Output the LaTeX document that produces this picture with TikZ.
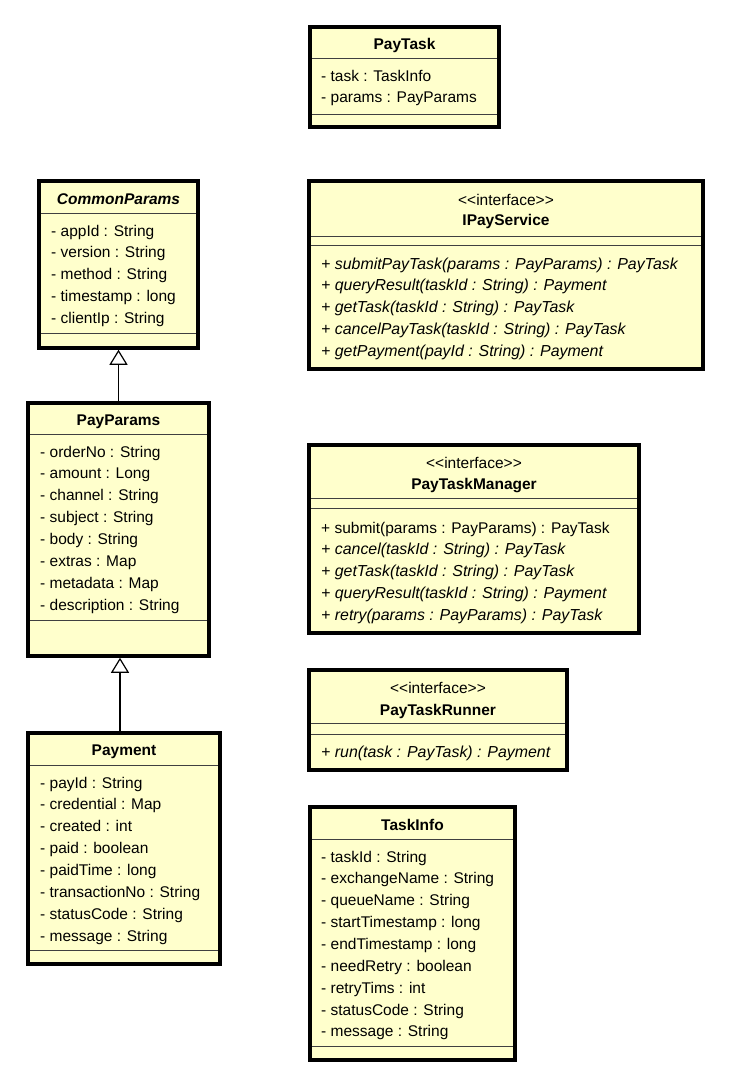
\documentclass[tikz,border=0pt]{standalone}
\usepackage{fontspec}
\setmainfont{Liberation Sans}
\usetikzlibrary{arrows.meta}
\definecolor{umlyellow}{HTML}{FFFFCC}
\definecolor{seplinec}{HTML}{404040}
\newcommand{\umllist}[4]{%
  \foreach \t [count=\i] in {#4} {
    \node[attr] (#1\i) at (#2, {#3+(\i-1)*21.86}) {\t};
  }}
\newcommand{\umlmeth}[4]{%
  \foreach \t [count=\i] in {#4} {
    \node[attr] (#1\i) at (#2, {#3+(\i-1)*21.75}) {\t};
  }}
\newcommand{\itm}{\fontsize{15.9}{18}\selectfont\itshape}
\begin{document}
\begin{tikzpicture}[x=1pt,y=-1pt,
  classbox/.style={draw=black, line width=3.5pt, fill=umlyellow, inner sep=0pt},
  sepline/.style={draw=seplinec, line width=1pt},
  attr/.style={anchor=base west, inner sep=0pt, font=\fontsize{15.5}{18}\selectfont},
  ttl/.style={anchor=base, inner sep=0pt, font=\fontsize{15.5}{18}\selectfont\bfseries},
  stereo/.style={anchor=base, inner sep=0pt, font=\fontsize{15.5}{18}\selectfont},
  gen/.style={line width=1.2pt, -{Triangle[open, length=15pt, width=18pt, line width=1.2pt]}}
]
\fill[white] (0,0) rectangle (733,1080);
\useasboundingbox (0,0) rectangle (733,1080);

% PayTask
\node[classbox, minimum width=189pt, minimum height=100pt] (paytask) at (404.5,77) {};
\draw[sepline] (312,58) -- (497,58);
\draw[sepline] (312,114) -- (497,114);
\node[ttl] (paytask-t) at (404.5,49) {PayTask};
\umllist{paytask-a}{321}{81}{{- task : TaskInfo},{- params : PayParams}}

% CommonParams
\node[classbox, minimum width=159pt, minimum height=167pt] (commonparams) at (118.5,264.5) {};
\draw[sepline] (41,213) -- (196,213);
\draw[sepline] (41,333) -- (196,333);
\node[ttl, font=\fontsize{15.5}{18}\selectfont\bfseries\itshape] (commonparams-t) at (118.5,204) {CommonParams};
\umllist{commonparams-a}{51}{236}{{- appId : String},{- version : String},{- method : String},{- timestamp : long},{- clientIp : String}}

% IPayService
\node[classbox, minimum width=394pt, minimum height=188pt] (ipayservice) at (506,275) {};
\draw[sepline] (311,236) -- (701,236);
\draw[sepline] (311,245) -- (701,245);
\node[stereo] (ipayservice-s) at (506,205) {<{}<interface>{}>};
\node[ttl] (ipayservice-t) at (506,225) {IPayService};
\umlmeth{ipayservice-m}{321}{269}{{\itm + submitPayTask(params : PayParams) : PayTask},{\itm + queryResult(taskId : String) : Payment},{\itm + getTask(taskId : String) : PayTask},{\itm + cancelPayTask(taskId : String) : PayTask},{\itm + getPayment(payId : String) : Payment}}

% PayParams
\node[classbox, minimum width=181pt, minimum height=253pt] (payparams) at (118.5,529.5) {};
\draw[sepline] (30,434) -- (207,434);
\draw[sepline] (30,620) -- (207,620);
\node[ttl] (payparams-t) at (118.5,425) {PayParams};
\umllist{payparams-a}{40}{457}{{- orderNo : String},{- amount : Long},{- channel : String},{- subject : String},{- body : String},{- extras : Map},{- metadata : Map},{- description : String}}

% PayTaskManager
\node[classbox, minimum width=330pt, minimum height=188pt] (paytaskmanager) at (474,539) {};
\draw[sepline] (311,498) -- (637,498);
\draw[sepline] (311,508) -- (637,508);
\node[stereo] (paytaskmanager-s) at (474,468) {<{}<interface>{}>};
\node[ttl] (paytaskmanager-t) at (474,489) {PayTaskManager};
\umlmeth{paytaskmanager-m}{321}{533}{{+ submit(params : PayParams) : PayTask},{\itm + cancel(taskId : String) : PayTask},{\itm + getTask(taskId : String) : PayTask},{\itm + queryResult(taskId : String) : Payment},{\itm + retry(params : PayParams) : PayTask}}

% PayTaskRunner
\node[classbox, minimum width=258pt, minimum height=100pt] (paytaskrunner) at (438,720) {};
\draw[sepline] (311,723) -- (565,723);
\draw[sepline] (311,734) -- (565,734);
\node[stereo] (paytaskrunner-s) at (438,693) {<{}<interface>{}>};
\node[ttl] (paytaskrunner-t) at (438,715) {PayTaskRunner};
\umlmeth{paytaskrunner-m}{321}{757}{{\itm + run(task : PayTask) : Payment}}

% Payment
\node[classbox, minimum width=192pt, minimum height=231pt] (payment) at (124,848.5) {};
\draw[sepline] (30,765) -- (218,765);
\draw[sepline] (30,950) -- (218,950);
\node[ttl] (payment-t) at (124,755) {Payment};
\umllist{payment-a}{40}{788}{{- payId : String},{- credential : Map},{- created : int},{- paid : boolean},{- paidTime : long},{- transactionNo : String},{- statusCode : String},{- message : String}}

% TaskInfo
\node[classbox, minimum width=205pt, minimum height=253pt] (taskinfo) at (412.5,933.5) {};
\draw[sepline] (312,839) -- (513,839);
\draw[sepline] (312,1046) -- (513,1046);
\node[ttl] (taskinfo-t) at (412.5,830) {TaskInfo};
\umllist{taskinfo-a}{321}{862}{{- taskId : String},{- exchangeName : String},{- queueName : String},{- startTimestamp : long},{- endTimestamp : long},{- needRetry : boolean},{- retryTims : int},{- statusCode : String},{- message : String}}

% Generalizations
\draw[gen] (payparams.north) -- (commonparams.south);
\draw[gen] (payment.north -| 120,0) -- (payparams.south -| 120,0);
\end{tikzpicture}
\end{document}
